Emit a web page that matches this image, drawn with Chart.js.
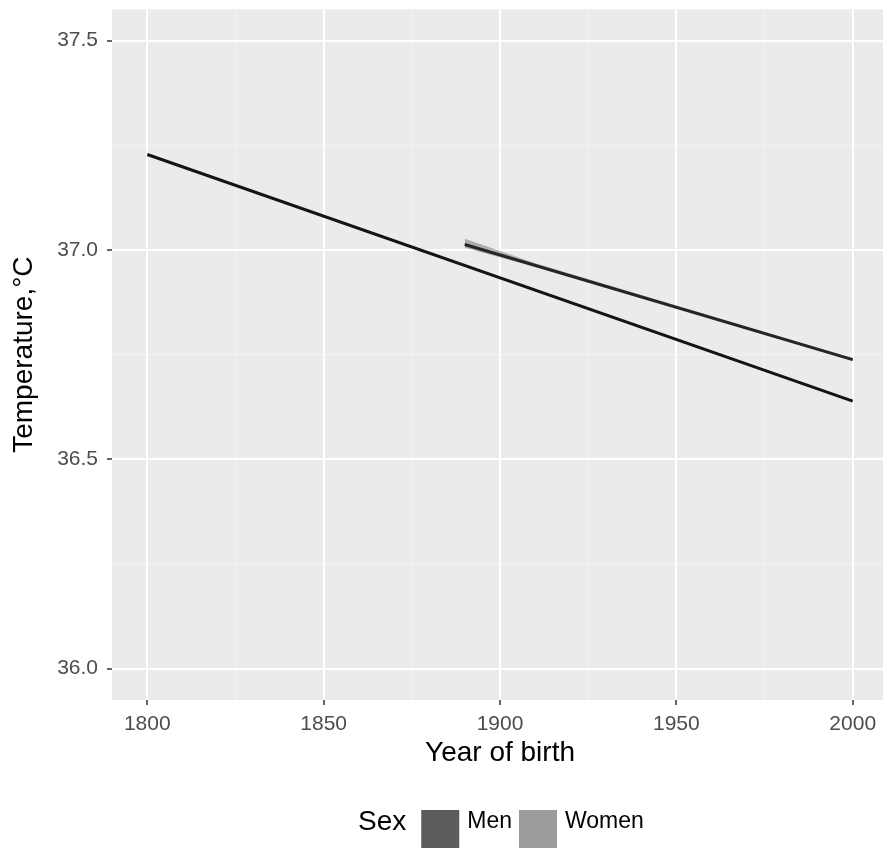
<!DOCTYPE html>
<html>
<head>
<meta charset="utf-8">
<script src="https://cdn.jsdelivr.net/npm/chart.js@4/dist/chart.umd.min.js"></script>
<style>
  html, body { margin: 0; padding: 0; background: #ffffff; overflow: hidden; }
  #wrap { width: 883px; height: 848px; overflow: hidden; position: relative; }
  canvas { display: block; }
</style>
</head>
<body>
<div id="wrap"><canvas id="c" width="890" height="848"></canvas></div>
<script>
// ---- data ----
const menYears = [1800, 2000];
const menTemp = [37.228, 36.639];
const womenYears = [1890, 2000];
const womenTemp = [37.013, 36.738];
// confidence ribbon around the women's line (visible near its start)
const womenBandYears = [1890, 1910, 2000];
const womenBandUpper = [37.027, 36.968, 36.741];
const womenBandLower = [37.005, 36.959, 36.735];

const seriesNames = ['Men', 'Women'];
const legendTitle = 'Sex';
const xTitle = 'Year of birth';
const yTitle = 'Temperature,\u00B0C';

const xMajorTicks = [1800, 1850, 1900, 1950, 2000];
const xTickLabels = ['1800', '1850', '1900', '1950', '2000'];
const xMinorTicks = [1825, 1875, 1925, 1975];
const yMajorTicks = [36.0, 36.5, 37.0, 37.5];
const yTickLabels = ['36.0', '36.5', '37.0', '37.5'];
const yMinorTicks = [36.25, 36.75, 37.25];

// ---- helpers ----
const FONT = "'Liberation Sans', Arial, 'DejaVu Sans', sans-serif";
const pts = (xs, ys) => xs.map((x, i) => ({ x: x, y: ys[i] }));
const majorIndex = (arr, v) => arr.findIndex(m => Math.abs(m - v) < 1e-6);

const panelPlugin = {
  id: 'panel',
  beforeDraw(chart) {
    const { ctx, chartArea: a } = chart;
    ctx.save();
    ctx.fillStyle = '#ebebeb';
    ctx.fillRect(a.left, a.top, a.right - a.left, a.bottom - a.top);
    ctx.restore();
  }
};

const legendColors = ['#5c5c5c', '#9c9c9c'];
const sexLegendPlugin = {
  id: 'sexLegend',
  afterDraw(chart) {
    const ctx = chart.ctx;
    ctx.save();
    const cy = 822;
    ctx.textBaseline = 'middle';
    ctx.textAlign = 'left';
    ctx.fillStyle = '#000000';
    ctx.font = '28px ' + FONT;
    let x = 358;
    ctx.fillText(legendTitle, x, cy);
    x += ctx.measureText(legendTitle).width + 15;
    ctx.font = '23px ' + FONT;
    seriesNames.forEach((name, i) => {
      ctx.fillStyle = legendColors[i];
      ctx.fillRect(x, 810, 38, 38);
      x += 38 + 8;
      ctx.fillStyle = '#000000';
      ctx.fillText(name, x, cy);
      x += ctx.measureText(name).width + 7;
    });
    ctx.restore();
  }
};

const gridColor = (majors) => (c) => majorIndex(majors, c.tick.value) >= 0 ? '#ffffff' : 'rgba(255,255,255,0.45)';
const gridWidth = (majors) => (c) => majorIndex(majors, c.tick.value) >= 0 ? 2 : 1;
const tickColor = (majors) => (c) => majorIndex(majors, c.tick.value) >= 0 ? '#333333' : 'rgba(0,0,0,0)';

new Chart(document.getElementById('c'), {
  type: 'line',
  data: {
    datasets: [
      {
        label: 'Women band lower',
        data: pts(womenBandYears, womenBandLower),
        borderWidth: 0, borderColor: 'rgba(0,0,0,0)', pointRadius: 0, fill: false,
        order: 3
      },
      {
        label: 'Women band upper',
        data: pts(womenBandYears, womenBandUpper),
        borderWidth: 0, borderColor: 'rgba(0,0,0,0)', pointRadius: 0,
        fill: '-1', backgroundColor: 'rgba(120,120,120,0.55)',
        order: 2
      },
      {
        label: seriesNames[0],
        data: pts(menYears, menTemp),
        borderColor: '#141414', borderWidth: 3, pointRadius: 0, fill: false,
        order: 1
      },
      {
        label: seriesNames[1],
        data: pts(womenYears, womenTemp),
        borderColor: '#252525', borderWidth: 3, pointRadius: 0, fill: false,
        order: 0
      }
    ]
  },
  options: {
    responsive: false,
    animation: false,
    layout: { padding: { top: 0, right: 2, bottom: 78, left: 7 } },
    plugins: { legend: { display: false }, tooltip: { enabled: false } },
    scales: {
      x: {
        type: 'linear',
        min: 1790, max: 2010,
        afterBuildTicks(s) {
          s.ticks = xMajorTicks.concat(xMinorTicks).sort((a, b) => a - b).map(v => ({ value: v }));
        },
        afterFit(s) { s.height = 70; },
        border: { display: false },
        grid: {
          color: gridColor(xMajorTicks),
          lineWidth: gridWidth(xMajorTicks),
          tickColor: tickColor(xMajorTicks),
          tickWidth: 1.5,
          tickLength: 5
        },
        ticks: {
          autoSkip: false, maxRotation: 0, padding: 7,
          color: '#4d4d4d',
          font: { family: FONT, size: 21 },
          callback: (v) => { const i = majorIndex(xMajorTicks, v); return i >= 0 ? xTickLabels[i] : ''; }
        },
        title: {
          display: true, text: xTitle, color: '#000000',
          padding: 0,
          font: { family: FONT, size: 28 }
        }
      },
      y: {
        type: 'linear',
        min: 35.925, max: 37.575,
        afterBuildTicks(s) {
          s.ticks = yMajorTicks.concat(yMinorTicks).sort((a, b) => a - b).map(v => ({ value: v }));
        },
        afterFit(s) { s.width = 105; },
        border: { display: false },
        grid: {
          color: gridColor(yMajorTicks),
          lineWidth: gridWidth(yMajorTicks),
          tickColor: tickColor(yMajorTicks),
          tickWidth: 1.5,
          tickLength: 5
        },
        ticks: {
          autoSkip: false, padding: 9,
          color: '#4d4d4d',
          font: { family: FONT, size: 21, lineHeight: 0.02 },
          callback: (v) => { const i = majorIndex(yMajorTicks, v); return i >= 0 ? yTickLabels[i] : ''; }
        },
        title: {
          display: true, text: yTitle, color: '#000000',
          padding: 0,
          font: { family: FONT, size: 28 }
        }
      }
    }
  },
  plugins: [panelPlugin, sexLegendPlugin]
});
</script>
</body>
</html>
